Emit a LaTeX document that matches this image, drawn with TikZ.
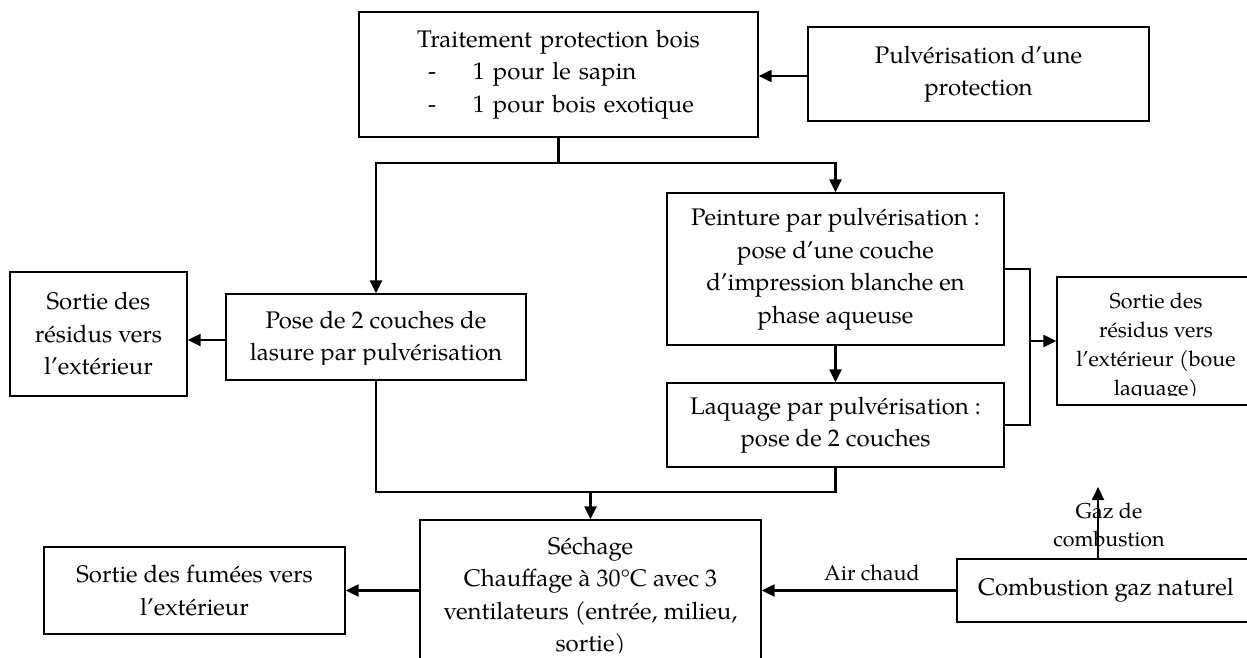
\documentclass[tikz,border=0pt]{standalone}
\usepackage{fontspec}
\setmainfont{TeX Gyre Pagella}
\usetikzlibrary{arrows.meta}
\begin{document}
\begin{tikzpicture}[x=1pt,y=-1pt,
  box/.style={draw, line width=1.3pt, inner sep=0pt, align=center},
  body/.style={font=\fontsize{24}{32.5}\selectfont},
  small/.style={font=\fontsize{21.5}{29}\selectfont},
  conn/.style={line width=2.2pt},
  arr/.style={line width=2.2pt, -{Triangle[length=13pt,width=12pt]}},
  plain/.style={inner sep=0pt, align=center},
]
\clip (0,0) rectangle (1247,657);

% --- process boxes ---
\node[box, body, minimum width=399pt, minimum height=125pt, text width=399pt, align=left]
  (trait) at (558.5,74.5)
  {\makebox[399pt][c]{Traitement protection bois}\\
   \hspace*{69pt}-\hspace*{37pt}1 pour le sapin\\
   \hspace*{69pt}-\hspace*{37pt}1 pour bois exotique};
\node[box, body, minimum width=341pt, minimum height=94pt] (pulv) at (978.5,74)
  {Pulvérisation d’une\\protection};

\node[box, minimum width=300pt, minimum height=86pt] (pose) at (376,337) {};
\begin{scope}
  \clip (226,294) rectangle (526,364);
  \node[plain, body] (posetxt) at (376,339) {Pose de 2 couches de\\lasure par pulvérisation};
\end{scope}

\node[box, body, minimum width=177pt, minimum height=124pt] (sortieL) at (98.5,334)
  {Sortie des\\résidus vers\\l’extérieur};

\node[box, body, minimum width=337pt, minimum height=152pt] (peint) at (835.5,269)
  {Peinture par pulvérisation :\\pose d’une couche\\d’impression blanche en\\phase aqueuse};
\node[box, body, minimum width=337pt, minimum height=84pt] (laq) at (835.5,425)
  {Laquage par pulvérisation :\\pose de 2 couches};

% residue outlet box runs past the right edge of the sheet
\node[box, minimum width=198pt, minimum height=128pt] (sortieB) at (1156,341) {};
\begin{scope}
  \clip (1057,277) rectangle (1255,395);
  \node[plain, small] (sortieBtxt) at (1156,347)
    {Sortie des\\résidus vers\\l’extérieur (boue\\laquage)};
\end{scope}

\node[box, minimum width=341pt, minimum height=154pt] (sech) at (590.5,597) {};
\begin{scope}
  \clip (420,520) rectangle (761,652);
  \node[plain, body] (sechtxt) at (590.5,597)
    {Séchage\\Chauffage à 30°C avec 3\\ventilateurs (entrée, milieu,\\sortie)};
\end{scope}

\node[box, body, minimum width=301pt, minimum height=87pt] (fumees) at (194.5,590.5)
  {Sortie des fumées vers\\l’extérieur};
\node[box, body, minimum width=298pt, minimum height=63pt] (comb) at (1106,590.5)
  {Combustion gaz naturel};

% --- labels ---
\node[plain, small] (airlbl) at (872,573) {Air chaud};
\node[plain, small, font=\fontsize{21.5}{28}\selectfont] (gazlbl) at (1109,525) {Gaz de\\combustion};

% --- junction points ---
\coordinate (fork) at (558.5,163);
\coordinate (br) at (1030,341);
\coordinate (merge) at (590.5,492);
\coordinate (gazend) at (1098,487);

% --- connectors ---
\draw[arr] (pulv.west |- 0,76) -- (trait.east |- 0,76);
\draw[conn] (trait.south) -- (fork);
\draw[arr] (fork) -| (pose.north);
\draw[arr] (fork) -| (peint.north);
\draw[arr] (pose.west |- 0,340) -- (sortieL.east |- 0,340);
\draw[arr] (peint.south) -- (laq.north);
\draw[conn] (peint.east) -| (br) |- (laq.east);
\draw[arr] (br) -- (sortieB.west);
\draw[conn] (pose.south) |- (merge) -| (laq.south);
\draw[arr] (merge) -- (sech.north);
\draw[arr] (fumees.east -| sech.west) -- (fumees.east);
\draw[arr] (comb.west) -- (comb.west -| sech.east);
\draw[arr] (gazend |- comb.north) -- (gazend);
\end{tikzpicture}
\end{document}
